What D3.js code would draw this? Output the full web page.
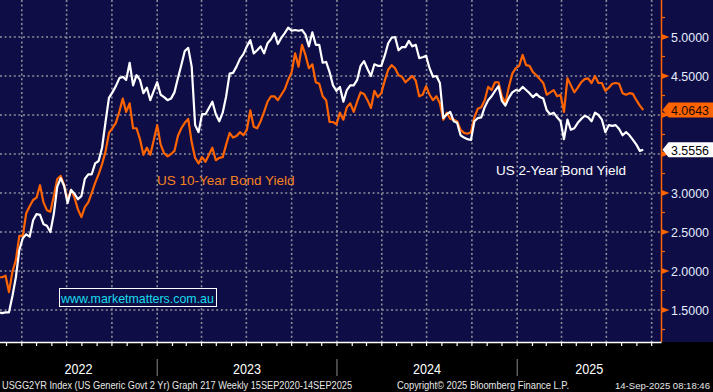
<!DOCTYPE html>
<html>
<head>
<meta charset="utf-8">
<script src="https://cdn.jsdelivr.net/npm/d3@7"></script>
<style>
  body { margin: 0; background: #000; }
  svg { display: block; }
</style>
</head>
<body>
<svg id="chart" width="713" height="392"></svg>
<script>
// weekly closes, first week below, one value per week
const firstWeek = "2022-02-13";

// US Generic Govt 2 Yr (white)
const us2y = [
  1.47, 1.46, 1.47, 1.47, 1.68, 1.92, 2.27, 2.42, 2.47, 2.44,
  2.65, 2.73, 2.72, 2.60, 2.58, 2.50, 2.73, 3.08, 3.19, 3.09,
  2.87, 3.04, 2.99, 2.92, 2.96, 3.18, 3.24, 3.24, 3.38, 3.41,
  3.58, 3.91, 4.22, 4.29, 4.37, 4.47, 4.49, 4.45, 4.67, 4.38,
  4.51, 4.45, 4.28, 4.35, 4.19, 4.31, 4.42, 4.26, 4.23, 4.19,
  4.21, 4.29, 4.47, 4.64, 4.82, 4.86, 4.62, 3.87, 3.78, 4.01,
  4.01, 4.09, 4.17, 4.01, 3.92, 4.03, 4.24, 4.53, 4.54, 4.62,
  4.72, 4.78, 4.88, 4.96, 4.79, 4.83, 4.88, 4.79, 4.92, 4.97,
  5.05, 4.91, 4.99, 5.05, 5.12, 5.08, 5.09, 5.08, 5.09, 5.03,
  4.88, 5.06, 4.90, 4.90, 4.67, 4.68, 4.55, 4.38, 4.31, 4.36,
  4.17, 4.32, 4.38, 4.38, 4.45, 4.63, 4.69, 4.59, 4.50, 4.65,
  4.63, 4.63, 4.76, 4.92, 4.99, 5.00, 4.83, 4.87, 4.87, 4.95,
  4.88, 4.90, 4.73, 4.74, 4.76, 4.60, 4.49, 4.50, 4.41, 3.96,
  4.01, 4.04, 3.92, 3.90, 3.74, 3.71, 3.69, 3.68, 3.92, 3.96,
  3.97, 4.10, 4.19, 4.24, 4.31, 4.37, 4.18, 4.12, 4.22, 4.29,
  4.32, 4.31, 4.36, 4.32, 4.28, 4.23, 4.27, 4.23, 4.21, 4.06,
  4.01, 4.03, 3.97, 3.92, 3.69, 3.94, 3.81, 3.83, 3.90, 3.95,
  3.99, 3.97, 3.92, 4.03, 4.00, 3.94, 3.78, 3.87, 3.86, 3.87,
  3.82, 3.74, 3.78, 3.74, 3.68, 3.62, 3.54, 3.5556
];

// US Generic Govt 10 Yr (orange)
const us10y = [
  1.92, 1.92, 1.94, 1.73, 1.99, 2.14, 2.45, 2.45, 2.74, 2.83,
  2.91, 2.94, 3.10, 2.88, 2.78, 2.76, 2.96, 3.18, 3.22, 3.10,
  2.91, 3.04, 2.94, 2.79, 2.69, 2.82, 2.88, 3.00, 3.13, 3.24,
  3.37, 3.53, 3.77, 3.83, 3.90, 4.04, 4.21, 4.04, 4.15, 3.83,
  3.83, 3.69, 3.49, 3.58, 3.49, 3.68, 3.87, 3.62, 3.51, 3.47,
  3.50, 3.54, 3.73, 3.83, 3.90, 3.95, 3.65, 3.45, 3.38, 3.46,
  3.40, 3.49, 3.58, 3.42, 3.45, 3.46, 3.62, 3.77, 3.71, 3.73,
  3.78, 3.74, 3.81, 4.06, 3.85, 3.83, 3.92, 4.04, 4.17, 4.24,
  4.24, 4.19, 4.26, 4.33, 4.45, 4.55, 4.79, 4.62, 4.90, 4.77,
  4.60, 4.65, 4.42, 4.40, 4.24, 4.19, 3.91, 3.91, 3.88, 4.03,
  3.94, 4.10, 4.15, 4.04, 4.17, 4.29, 4.27, 4.19, 4.09, 4.31,
  4.23, 4.28, 4.44, 4.58, 4.64, 4.60, 4.51, 4.49, 4.42, 4.46,
  4.50, 4.44, 4.24, 4.26, 4.37, 4.26, 4.19, 4.24, 4.15, 3.94,
  4.03, 3.95, 3.94, 3.92, 3.81, 3.77, 3.76, 3.78, 3.97, 4.08,
  4.10, 4.19, 4.36, 4.32, 4.42, 4.42, 4.24, 4.15, 4.36, 4.53,
  4.60, 4.63, 4.77, 4.64, 4.63, 4.55, 4.51, 4.46, 4.41, 4.26,
  4.29, 4.32, 4.24, 4.26, 4.04, 4.47, 4.38, 4.29, 4.35, 4.42,
  4.46, 4.47, 4.41, 4.50, 4.41, 4.41, 4.31, 4.35, 4.40, 4.41,
  4.40, 4.28, 4.26, 4.28, 4.27, 4.19, 4.12, 4.0643
];

const yTicks = [1.5, 2.0, 2.5, 3.0, 3.5, 4.0, 4.5, 5.0];
const seriesLabels = ["US 10-Year Bond Yield", "US 2-Year Bond Yield"];
const watermark = "www.marketmatters.com.au";
const footer = [
  "USGG2YR Index (US Generic Govt 2 Yr) Graph 217  Weekly 15SEP2020-14SEP2025",
  "Copyright\u00a9 2025 Bloomberg Finance L.P.",
  "14-Sep-2025 08:18:46"
];

const W = 713, H = 392;
const PLOT_R = 661.5, PLOT_B = 342;
const NAVY = "#0e0d46";
const ORANGE = "#ff6400";
const SANS = "'Liberation Sans', Arial, sans-serif";

const svg = d3.select("#chart");

const start = d3.timeParse("%Y-%m-%d")(firstWeek);
const dates = us2y.map((_, i) => d3.timeWeek.offset(start, i));
const rows = dates.map((d, i) => ({ date: d, y2: us2y[i], y10: us10y[i] }));
const last = rows[rows.length - 1];

const x = d3.scaleTime()
  .domain([new Date(2022, 1, 15, 18), new Date(2025, 9, 21)])
  .range([0, PLOT_R]);
const y = d3.scaleLinear().domain([1.5, 5]).range([310, 37]);

// backgrounds
svg.append("rect").attr("width", W).attr("height", H).attr("fill", "#000");
svg.append("rect").attr("width", W).attr("height", PLOT_B).attr("fill", NAVY);

// grid
const grid = svg.append("g")
  .attr("stroke", "#8e8e9a")
  .attr("stroke-width", 1.6)
  .attr("stroke-dasharray", "2,2.6");

grid.selectAll(".h")
  .data(yTicks)
  .join("line")
  .attr("x1", 0)
  .attr("x2", PLOT_R)
  .attr("y1", (d) => y(d))
  .attr("y2", (d) => y(d));

const quarters = d3.timeMonth.every(3).range(x.domain()[0], x.domain()[1]);
grid.selectAll(".v")
  .data(quarters)
  .join("line")
  .attr("x1", (d) => x(d))
  .attr("x2", (d) => x(d))
  .attr("y1", 0)
  .attr("y2", PLOT_B);

// lines
svg.append("clipPath").attr("id", "plotClip")
  .append("rect").attr("width", PLOT_R).attr("height", PLOT_B);

const lines = svg.append("g").attr("clip-path", "url(#plotClip)");

lines.append("path")
  .datum(rows)
  .attr("fill", "none")
  .attr("stroke", ORANGE)
  .attr("stroke-width", 2.2)
  .attr("stroke-linejoin", "round")
  .attr("d", d3.line().x((d) => x(d.date)).y((d) => y(d.y10)));

lines.append("path")
  .datum(rows)
  .attr("fill", "none")
  .attr("stroke", "#ffffff")
  .attr("stroke-width", 2.2)
  .attr("stroke-linejoin", "round")
  .attr("d", d3.line().x((d) => x(d.date)).y((d) => y(d.y2)));

// series labels
svg.append("text")
  .attr("x", 157).attr("y", 185)
  .attr("font-family", SANS).attr("font-size", 13.5)
  .attr("fill", "#f5821f")
  .text(seriesLabels[0]);

svg.append("text")
  .attr("x", 496).attr("y", 175)
  .attr("font-family", SANS).attr("font-size", 13.5)
  .attr("fill", "#ffffff")
  .text(seriesLabels[1]);

// watermark
svg.append("rect")
  .attr("x", 59.5).attr("y", 288.5).attr("width", 157).attr("height", 18)
  .attr("fill", NAVY).attr("stroke", "#ffffff").attr("stroke-width", 1);
svg.append("text")
  .attr("x", 61).attr("y", 302.5)
  .attr("font-family", SANS).attr("font-size", 12.4)
  .attr("fill", "#19dcec")
  .text(watermark);

// right axis
const axisR = svg.append("g");
axisR.append("line")
  .attr("x1", PLOT_R).attr("x2", PLOT_R)
  .attr("y1", 0).attr("y2", PLOT_B)
  .attr("stroke", ORANGE).attr("stroke-width", 1.5);

const minor = d3.range(1.25, 5.5, 0.5);
axisR.selectAll(".minor")
  .data(minor)
  .join("line")
  .attr("x1", PLOT_R).attr("x2", PLOT_R + 3.5)
  .attr("y1", (d) => y(d)).attr("y2", (d) => y(d))
  .attr("stroke", ORANGE).attr("stroke-width", 1.2);

axisR.selectAll(".tri")
  .data(yTicks)
  .join("path")
  .attr("d", (d) => `M${PLOT_R},${y(d) - 3}L${PLOT_R + 8},${y(d)}L${PLOT_R},${y(d) + 3}Z`)
  .attr("fill", ORANGE);

// labels hidden behind the last-value tags are left out, as in the original
const tagValues = [last.y10, last.y2];
const visibleTicks = yTicks.filter((t) =>
  tagValues.every((v) => Math.abs(y(t) - y(v)) > 12));

axisR.selectAll(".lbl")
  .data(visibleTicks)
  .join("text")
  .attr("x", 671)
  .attr("y", (d) => y(d) + 5)
  .attr("font-family", SANS).attr("font-size", 13)
  .attr("textLength", 38)
  .attr("lengthAdjust", "spacingAndGlyphs")
  .attr("fill", "#e6edff")
  .text((d) => d.toFixed(4));

// last value tags
const tags = [
  { v: last.y10, fill: ORANGE, text: "#1a0a00" },
  { v: last.y2, fill: "#ffffff", text: "#000000" }
];
const tagG = svg.selectAll(".tag").data(tags).join("g");
tagG.append("path")
  .attr("d", (d) => {
    const c = y(d.v);
    return `M${PLOT_R + 1},${c}L${PLOT_R + 7},${c - 7.5}L${W},${c - 7.5}L${W},${c + 7.5}L${PLOT_R + 7},${c + 7.5}Z`;
  })
  .attr("fill", (d) => d.fill);
tagG.append("text")
  .attr("x", 671)
  .attr("y", (d) => y(d.v) + 5)
  .attr("font-family", SANS).attr("font-size", 13)
  .attr("textLength", 38)
  .attr("lengthAdjust", "spacingAndGlyphs")
  .attr("fill", (d) => d.text)
  .text((d) => d.v.toFixed(4));

// bottom axis
const axisB = svg.append("g");
axisB.append("line")
  .attr("x1", 0).attr("x2", PLOT_R)
  .attr("y1", PLOT_B + 0.5).attr("y2", PLOT_B + 0.5)
  .attr("stroke", "#ffffff").attr("stroke-width", 1.5);

const months = d3.timeMonth.range(x.domain()[0], x.domain()[1]);
axisB.selectAll(".mt")
  .data(months)
  .join("line")
  .attr("x1", (d) => x(d)).attr("x2", (d) => x(d))
  .attr("y1", PLOT_B).attr("y2", PLOT_B + 4)
  .attr("stroke", "#ffffff").attr("stroke-width", 1.2);

const yearStarts = d3.timeYear.range(x.domain()[0], x.domain()[1]);
axisB.selectAll(".ysep")
  .data(yearStarts)
  .join("line")
  .attr("x1", (d) => x(d)).attr("x2", (d) => x(d))
  .attr("y1", 359).attr("y2", 376)
  .attr("stroke", "#8a8a8a").attr("stroke-width", 1);

const years = [2022, 2023, 2024, 2025];
axisB.selectAll(".yl")
  .data(years)
  .join("text")
  .attr("x", (d) => {
    const a = Math.max(0, x(new Date(d, 0, 1)));
    const b = Math.min(PLOT_R, x(new Date(d + 1, 0, 1)));
    return (a + b) / 2 - 14;
  })
  .attr("y", 373.5)
  .attr("font-family", SANS).attr("font-size", 14.5)
  .attr("textLength", 28)
  .attr("lengthAdjust", "spacingAndGlyphs")
  .attr("fill", "#ffffff")
  .text((d) => d);

// footer
const footPos = [[2, 350, 10.5], [397, 172, 10.5], [615, 95, 9.2]];
svg.selectAll(".foot")
  .data(footer)
  .join("text")
  .attr("x", (d, i) => footPos[i][0])
  .attr("y", 388.5)
  .attr("textLength", (d, i) => footPos[i][1])
  .attr("lengthAdjust", "spacingAndGlyphs")
  .attr("font-family", SANS)
  .attr("font-size", (d, i) => footPos[i][2])
  .attr("fill", "#e8e8e8")
  .text((d) => d);
</script>
</body>
</html>
